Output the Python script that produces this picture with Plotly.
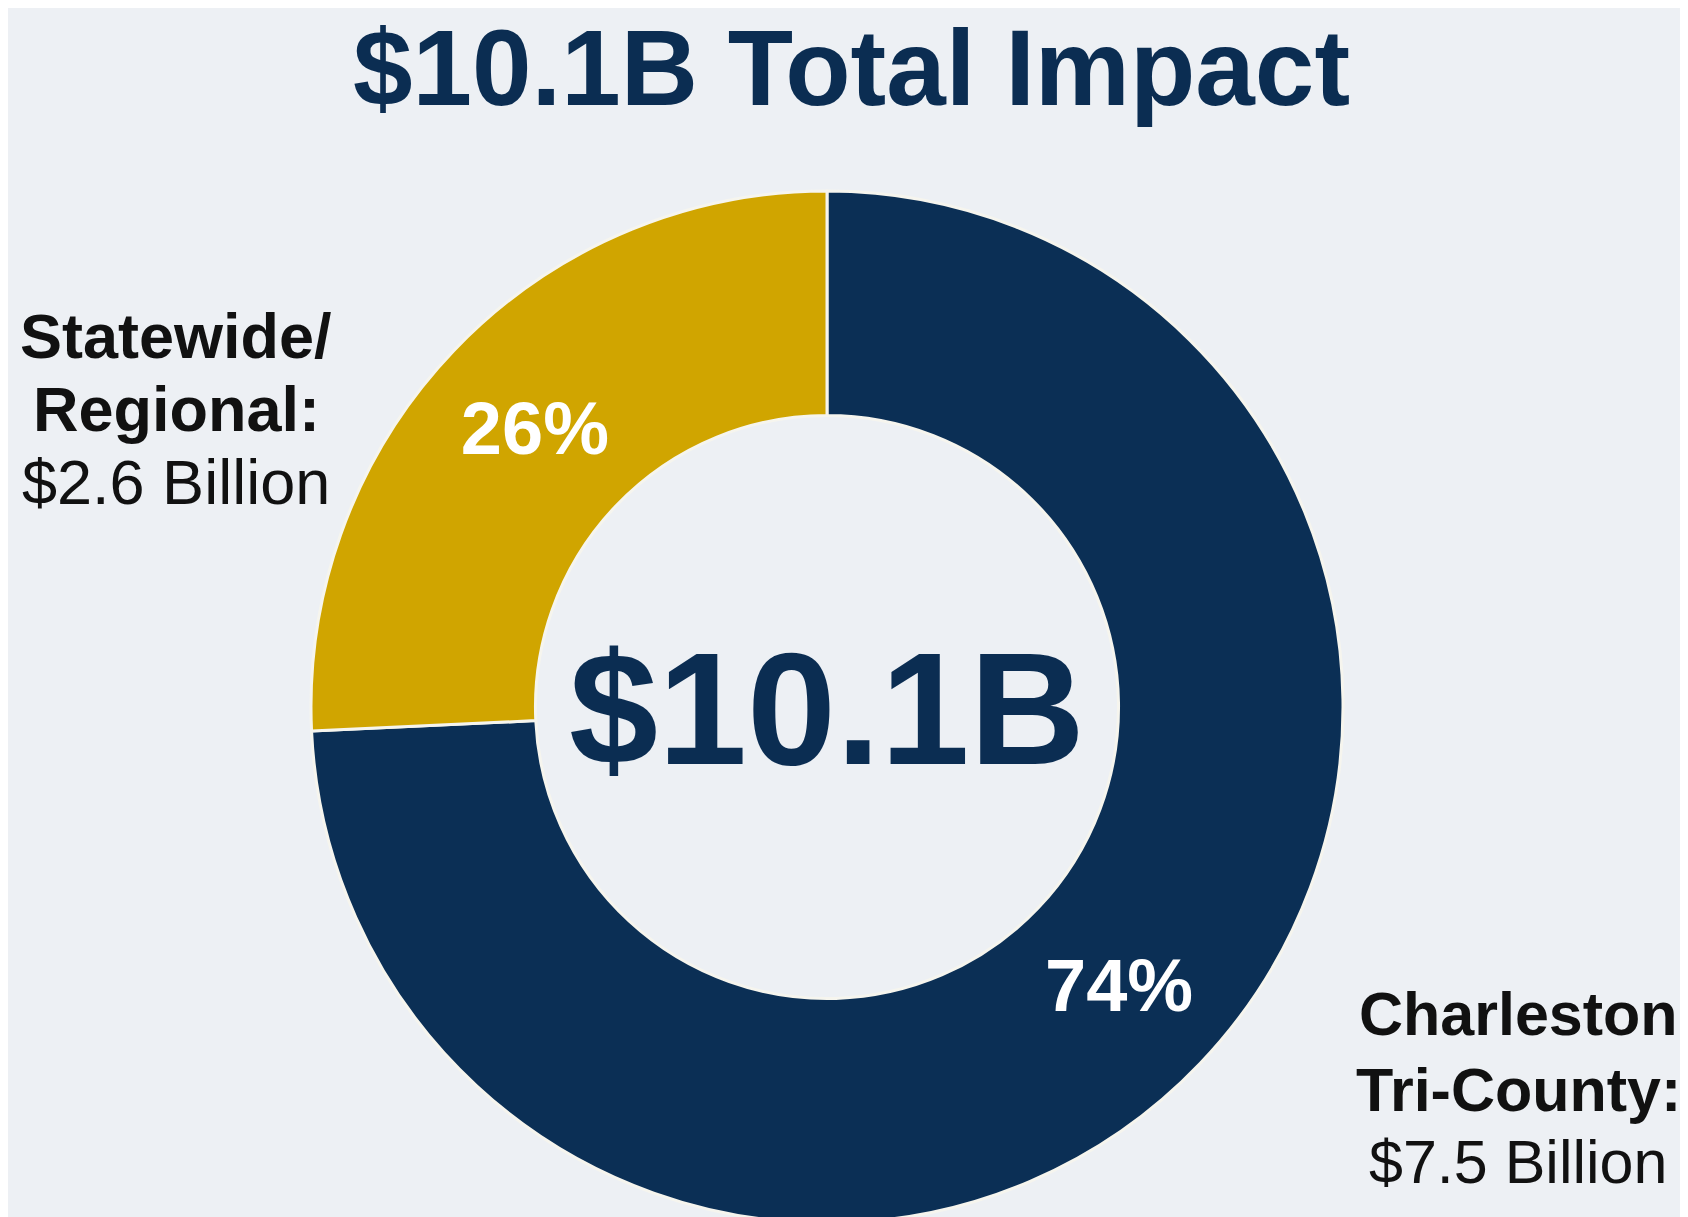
import plotly.graph_objects as go

categories = ["Charleston Tri-County", "Statewide/Regional"]
values_billion = [7.5, 2.6]
slice_colors = ["#0B2F55", "#D0A500"]
total_label = "$10.1B"
title_text = "$10.1B Total Impact"
label_left = ["Statewide/", "Regional:", "$2.6 Billion"]
label_right = ["Charleston", "Tri-County:", "$7.5 Billion"]

W, H = 1688, 1217
NAVY = "#0B2D52"
FONT = "Liberation Sans, Arial, sans-serif"

cx, cy, r = 819, 699, 516

fig = go.Figure(go.Pie(
    labels=categories,
    values=values_billion,
    sort=False,
    direction="clockwise",
    rotation=0,
    hole=0.565,
    marker=dict(colors=slice_colors, line=dict(color="#F6F5EE", width=3)),
    texttemplate="<b>%{percent:.0%}</b>",
    textposition="inside",
    insidetextorientation="horizontal",
    textfont=dict(family=FONT, size=74, color="#FFFFFF"),
    showlegend=False,
    hoverinfo="label+value+percent",
    domain=dict(x=[(cx - r) / W, (cx + r) / W], y=[0, 2 * (1 - cy / H)]),
))

def px(x):
    return x / W

def py(y):
    return 1 - y / H

ann = []
ann.append(dict(x=px(843), y=py(60), text=f"<b>{title_text}</b>", showarrow=False,
                font=dict(family=FONT, size=107, color=NAVY), xanchor="center", yanchor="middle"))
ann.append(dict(x=px(cx), y=py(701), text=f"<b>{total_label}</b>", showarrow=False,
                font=dict(family=FONT, size=160, color=NAVY), xanchor="center", yanchor="middle"))
for i, (t, y) in enumerate(zip(label_left, [328, 401, 474])):
    txt = f"<b>{t}</b>" if i < 2 else t
    ann.append(dict(x=px(168), y=py(y), text=txt, showarrow=False,
                    font=dict(family=FONT, size=63, color="#111111"), xanchor="center", yanchor="middle"))
for i, (t, y) in enumerate(zip(label_right, [1006, 1082, 1154])):
    txt = f"<b>{t}</b>" if i < 2 else t
    ann.append(dict(x=px(1510), y=py(y), text=txt, showarrow=False,
                    font=dict(family=FONT, size=61, color="#111111"), xanchor="center", yanchor="middle"))

fig.update_layout(
    width=W, height=H,
    margin=dict(l=0, r=0, t=0, b=0),
    paper_bgcolor="#EDF0F4",
    plot_bgcolor="#EDF0F4",
    annotations=ann,
)

fig.write_html("out.html")
